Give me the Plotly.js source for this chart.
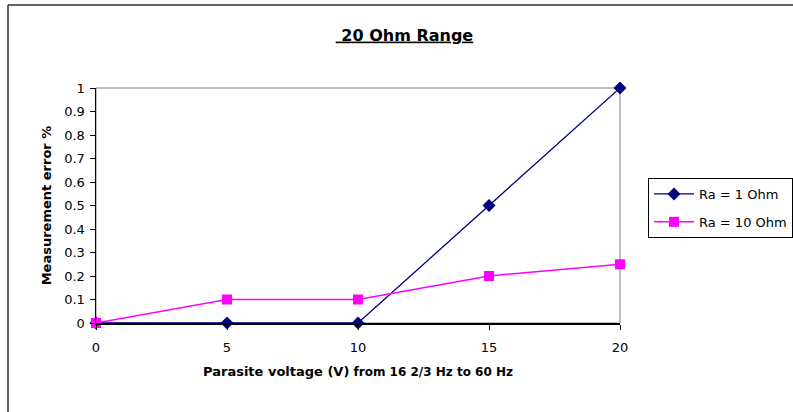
<!DOCTYPE html>
<html>
<head>
<meta charset="utf-8">
<script src="https://cdn.plot.ly/plotly-3.0.1.min.js"></script>
<style>
  html, body { margin: 0; padding: 0; background: #fff; }
  #chart { width: 793px; height: 412px; }
</style>
</head>
<body>
<div id="chart"></div>
<script>
// ---- data ----
const voltage = [0, 5, 10, 15, 20];
const seriesNames = ["Ra = 1 Ohm", "Ra = 10 Ohm"];
const errRa1 = [0, 0, 0, 0.5, 1];
const errRa10 = [0, 0.1, 0.1, 0.2, 0.25];
const xTicks = [0, 5, 10, 15, 20];
const yTicks = [0, 0.1, 0.2, 0.3, 0.4, 0.5, 0.6, 0.7, 0.8, 0.9, 1];
const titleText = "20 Ohm Range";
const xTitleMain = "Parasite voltage (V)";
const xTitleSub = "from 16 2/3 Hz to 60 Hz";
const yTitleText = "Measurement error %";

const FONT = "DejaVu Sans, Arial, sans-serif";

const traces = [
  {
    x: voltage, y: errRa1, name: seriesNames[0], type: "scatter", mode: "lines+markers",
    line: { color: "#000080", width: 1.3 },
    marker: { symbol: "diamond", size: 10, color: "#000080" },
    cliponaxis: false, legendgroup: "a"
  },
  {
    x: voltage, y: errRa10, name: seriesNames[1], type: "scatter", mode: "lines+markers",
    line: { color: "#FF00FF", width: 1.5 },
    marker: { symbol: "square", size: 10, color: "#FF00FF" },
    cliponaxis: false, legendgroup: "b"
  }
];

const L = 96, R = 793 - 620, T = 88, B = 412 - 323;
const pw = 793 - L - R, ph = 412 - T - B;
const px = v => (v - L) / pw;
const py = v => (412 - B - v) / ph;

const layout = {
  width: 793, height: 412,
  margin: { l: L, r: R, t: T, b: B, pad: 0, autoexpand: false },
  paper_bgcolor: "#ffffff", plot_bgcolor: "#ffffff",
  font: { family: FONT, color: "#000", size: 12 },
  title: {
    text: "<b><u>&nbsp;" + titleText + "</u></b>",
    font: { family: FONT, size: 16, color: "#000" },
    xref: "container", x: 404.5 / 793, xanchor: "center",
    yref: "container", y: 1 - 35 / 412, yanchor: "middle"
  },
  xaxis: {
    range: [0, 20], tickvals: xTicks, ticktext: xTicks.map(String),
    showgrid: false, zeroline: false,
    showline: true, linecolor: "#000", linewidth: 1.5,
    ticks: "outside", ticklen: 5, tickcolor: "#000", tickwidth: 1,
    ticklabelstandoff: 7,
    tickfont: { family: FONT, size: 13, color: "#000" },
    title: {
      text: "<b>" + xTitleMain + "</b> <b><span style='font-size:12px'>" + xTitleSub + "</span></b>",
      font: { family: FONT, size: 13, color: "#000" },
      standoff: 13
    },
    fixedrange: true
  },
  yaxis: {
    range: [0, 1], tickvals: yTicks, ticktext: yTicks.map(String),
    showgrid: false, zeroline: false,
    showline: true, linecolor: "#000", linewidth: 1.5,
    ticks: "outside", ticklen: 5, tickcolor: "#000", tickwidth: 1,
    ticklabelstandoff: 2,
    tickfont: { family: FONT, size: 13, color: "#000" },
    title: {
      text: "<b>" + yTitleText + "</b>",
      font: { family: FONT, size: 13, color: "#000" },
      standoff: 9
    },
    fixedrange: true
  },
  showlegend: true,
  legend: {
    x: px(648), y: py(178), xanchor: "left", yanchor: "top",
    xref: "paper", yref: "paper",
    bgcolor: "#ffffff", bordercolor: "#000", borderwidth: 1,
    font: { family: FONT, size: 13, color: "#000" },
    itemwidth: 40,
    traceorder: "grouped", tracegroupgap: 8
  },
  shapes: [
    { type: "rect", xref: "paper", yref: "paper", x0: 0, x1: 1, y0: 0, y1: 1,
      line: { color: "#808080", width: 1 }, layer: "below" },
    { type: "line", xref: "paper", yref: "paper", x0: px(8), x1: px(800), y0: py(5), y1: py(5),
      line: { color: "#333", width: 1.5 } },
    { type: "line", xref: "paper", yref: "paper", x0: px(8), x1: px(8), y0: py(5), y1: py(420),
      line: { color: "#333", width: 1.5 } }
  ]
};

Plotly.newPlot("chart", traces, layout, { staticPlot: true, displayModeBar: false });
</script>
</body>
</html>
